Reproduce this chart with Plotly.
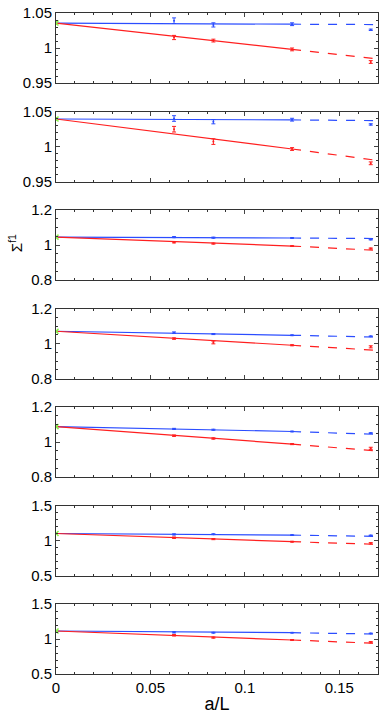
import plotly.graph_objects as go
from plotly.subplots import make_subplots

# lattice spacings a/L
x_pts = [1/16, 1/12, 1/8, 1/6]
x_fit = [0.0, 0.125, 0.1685]

# continuum values (green, x = 0)
cont = [1.0356, 1.0393, 1.045, 1.070, 1.088, 1.100, 1.114]
cont_err = [0.002, 0.002, 0.004, 0.004, 0.004, 0.008, 0.008]

# blue series
blue = [
    [1.039, 1.033, 1.034, 1.026],
    [1.040, 1.0354, 1.0383, 1.0315],
    [1.045, 1.042, 1.040, 1.031],
    [1.062, 1.054, 1.047, 1.041],
    [1.075, 1.070, 1.060, 1.051],
    [1.087, 1.090, 1.077, 1.073],
    [1.095, 1.090, 1.090, 1.080],
]
blue_err = [
    [0.004, 0.003, 0.002, 0.001],
    [0.004, 0.003, 0.002, 0.001],
    [0.003, 0.003, 0.002, 0.002],
    [0.004, 0.003, 0.002, 0.002],
    [0.003, 0.003, 0.002, 0.002],
    [0.008, 0.006, 0.004, 0.004],
    [0.008, 0.006, 0.004, 0.004],
]
blue_fit = [
    [1.0356, 1.034, 1.0335],
    [1.0393, 1.038, 1.037],
    [1.045, 1.040, 1.037],
    [1.070, 1.047, 1.037],
    [1.088, 1.060, 1.044],
    [1.100, 1.077, 1.059],
    [1.114, 1.090, 1.071],
]

# red series
red = [
    [1.015, 1.0106, 0.998, 0.980],
    [1.0247, 1.007, 0.9964, 0.976],
    [1.015, 1.008, 0.994, 0.980],
    [1.028, 1.006, 0.990, 0.981],
    [1.036, 1.020, 0.988, 0.964],
    [1.040, 1.020, 0.983, 0.960],
    [1.053, 1.020, 0.986, 0.953],
]
red_err = [
    [0.003, 0.002, 0.002, 0.002],
    [0.004, 0.004, 0.002, 0.002],
    [0.003, 0.003, 0.002, 0.003],
    [0.004, 0.008, 0.003, 0.006],
    [0.004, 0.004, 0.003, 0.006],
    [0.010, 0.008, 0.006, 0.010],
    [0.010, 0.008, 0.006, 0.010],
]
red_fit = [
    [1.0356, 0.998, 0.985],
    [1.0393, 0.9964, 0.9807],
    [1.045, 0.994, 0.970],
    [1.070, 0.990, 0.962],
    [1.088, 0.988, 0.950],
    [1.100, 0.983, 0.946],
    [1.114, 0.986, 0.939],
]

y_ranges = [[0.95, 1.05], [0.95, 1.05], [0.8, 1.2], [0.8, 1.2],
            [0.8, 1.2], [0.5, 1.5], [0.5, 1.5]]
y_ticks = [[0.95, 1, 1.05], [0.95, 1, 1.05], [0.8, 1, 1.2], [0.8, 1, 1.2],
           [0.8, 1, 1.2], [0.5, 1, 1.5], [0.5, 1, 1.5]]
y_ticktext = [["0.95", "1", "1.05"], ["0.95", "1", "1.05"], ["0.8", "1", "1.2"],
              ["0.8", "1", "1.2"], ["0.8", "1", "1.2"], ["0.5", "1", "1.5"],
              ["0.5", "1", "1.5"]]
y_minor = [0.01, 0.01, 0.05, 0.05, 0.05, 0.1, 0.1]

BLUE = "#2b4dff"
RED = "#ff1f1f"
GREEN = "#8cf24a"

n = len(cont)
fig = make_subplots(rows=n, cols=1, shared_xaxes=True,
                    vertical_spacing=28.5 / 661)

for i in range(n):
    r = i + 1
    for fit, col in ((blue_fit[i], BLUE), (red_fit[i], RED)):
        fig.add_trace(go.Scatter(x=x_fit[:2], y=fit[:2], mode="lines",
                                 line=dict(color=col, width=1.2)), row=r, col=1)
        fig.add_trace(go.Scatter(x=x_fit[1:], y=fit[1:], mode="lines",
                                 line=dict(color=col, width=1.2, dash="dash")),
                      row=r, col=1)
    for vals, errs, col in ((blue[i], blue_err[i], BLUE), (red[i], red_err[i], RED)):
        fig.add_trace(go.Scatter(
            x=x_pts, y=vals, mode="markers",
            marker=dict(color=col, size=2, symbol="circle"),
            error_y=dict(type="data", array=errs, color=col, thickness=1, width=2)),
            row=r, col=1)
    fig.add_trace(go.Scatter(
        x=[0], y=[cont[i]], mode="markers",
        marker=dict(color=GREEN, size=5, symbol="x-thin", line=dict(color=GREEN, width=1.5)),
        error_y=dict(type="data", array=[cont_err[i]], color=GREEN, thickness=1, width=2)),
        row=r, col=1)

    fig.update_yaxes(range=y_ranges[i], tickvals=y_ticks[i], ticktext=y_ticktext[i],
                     ticks="inside", ticklen=4, showline=True, linecolor="#333",
                     linewidth=1, mirror="allticks", showgrid=False, zeroline=False,
                     minor=dict(ticks="inside", ticklen=2, dtick=y_minor[i],
                                tickcolor="#333", showgrid=False),
                     row=r, col=1)

fig.update_xaxes(range=[0, 0.1705], tickvals=[0, 0.05, 0.1, 0.15],
                 ticktext=["0", "0.05", "0.1", "0.15"],
                 ticks="inside", ticklen=4, showline=True, linecolor="#333",
                 linewidth=1, mirror="allticks", showgrid=False, zeroline=False,
                 minor=dict(ticks="inside", ticklen=2, dtick=0.01,
                            tickcolor="#333", showgrid=False))
fig.update_xaxes(title_text="a/L", title_standoff=2, row=n, col=1)

fig.add_annotation(text="Σ<sup>f1</sup>", xref="paper", yref="paper",
                   x=-0.127, y=0.652, xanchor="center", textangle=-90,
                   showarrow=False, font=dict(size=15, color="black"))

fig.update_layout(
    width=382, height=716,
    margin=dict(l=56, r=4, t=13, b=42, autoexpand=False),
    showlegend=False,
    plot_bgcolor="white", paper_bgcolor="white",
    font=dict(family="Liberation Sans, Arial, sans-serif", size=15, color="black"),
)

# drop the default 8px body margin so the figure sits flush with the window
fig.write_html("out.html", config={"displayModeBar": False},
               post_script="document.body.style.margin='0';")
